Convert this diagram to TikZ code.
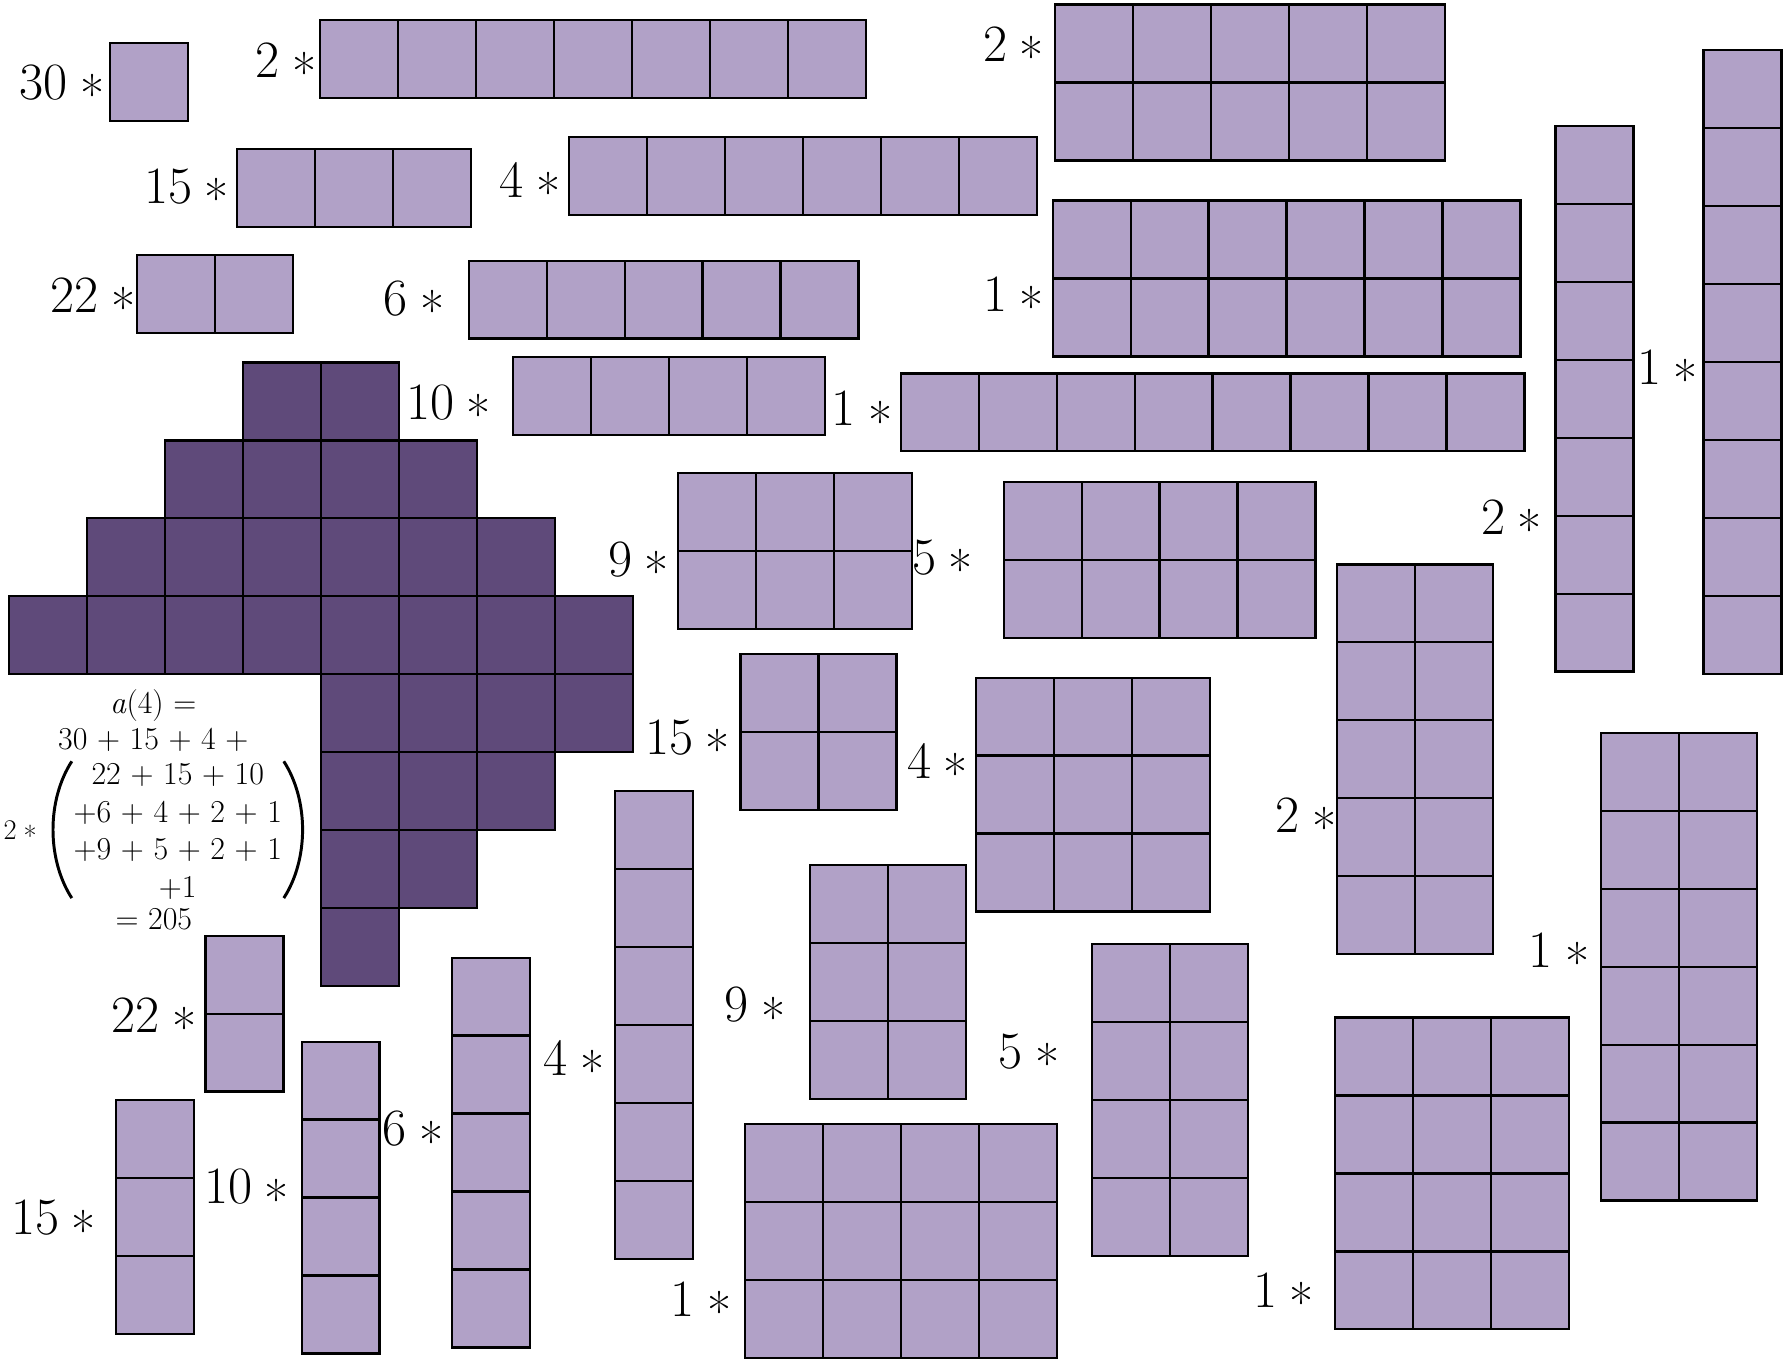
\documentclass[tikz,border=0pt]{standalone}
\definecolor{lightp}{HTML}{B1A1C7}
\definecolor{darkp}{HTML}{5F4A7A}
\newcommand\mystar{\raisebox{-0.27em}[0pt][0pt]{*}}
\tikzset{
  cellbox/.style={fill=lightp, draw=black, line width=2pt},
  darkcell/.style={fill=darkp, draw=black, line width=2pt},
  blockbox/.style={draw=black, line width=2pt, inner sep=0pt, outer sep=0pt, anchor=north west},
  cnt/.style={font=\fontsize{46}{50}\selectfont, inner sep=0pt, anchor=east},
  frm/.style={font=\fontsize{28}{33}\selectfont, inner sep=0pt, anchor=base},
  paren/.style={line width=2.6pt},
}
\newcommand\cs{68.4}
\newcommand\myblk[8]{%
  \foreach \i in {1,...,#4}{\foreach \j in {1,...,#5}{%
    \draw[cellbox] ({#2+(\i-1)*\cs},{#3+(\j-1)*\cs}) rectangle ++(\cs,\cs);}}
  \node[blockbox, minimum width={(#4*\cs)*1pt}, minimum height={(#5*\cs)*1pt}] (#1) at (#2,#3) {};
  \node[cnt] (#1-lab) at (#7,#8) {#6\hspace{0.24em}\mystar};
}
\begin{document}
\begin{tikzpicture}[x=1pt,y=-1pt]
\fill[white] (0,0) rectangle (1568,1195);
\useasboundingbox (0,0) rectangle (1568,1195);

% dark staircase shape
\foreach \r/\a/\b in {0/3/4,1/2/5,2/1/6,3/0/7,4/4/7,5/4/6,6/4/5,7/4/4}{
  \foreach \c in {\a,...,\b}{
    \draw[darkcell] ({8+\c*\cs},{318+\r*\cs}) rectangle ++(\cs,\cs);}}

% light blocks: name, x, y, cols, rows, count, label x, label y
\myblk{b30}{96.4}{38}{1}{1}{30}{92}{72.5}
\myblk{b2a}{281}{17.5}{7}{1}{2}{278}{52.5}
\myblk{b2b}{926}{4}{5}{2}{2}{916}{39}
\myblk{b15a}{208.2}{130.7}{3}{1}{15}{201}{164}
\myblk{b4a}{499.3}{120.5}{6}{1}{4}{492}{157.5}
\myblk{b22a}{120}{223.7}{2}{1}{22}{119}{259}
\myblk{b6a}{411.3}{228.7}{5}{1}{6}{390}{262}
\myblk{b1a}{923.7}{176}{6}{2}{1}{916}{258}
\myblk{b10a}{450}{313.5}{4}{1}{10}{431}{353.5}
\myblk{b1b}{790.4}{327.6}{8}{1}{1}{783}{358.5}
\myblk{b2c}{1364.8}{110.5}{1}{7}{2}{1353}{453.5}
\myblk{b1c}{1494.8}{44}{1}{8}{1}{1490}{322}
\myblk{b9a}{595}{415.3}{3}{2}{9}{587}{490.6}
\myblk{b5a}{880.7}{423.2}{4}{2}{5}{854}{489}
\myblk{b15b}{649.8}{574.1}{2}{2}{15}{640.6}{647.4}
\myblk{b4b}{856.4}{594.6}{3}{3}{4}{849.6}{667.8}
\myblk{b2d}{1173}{495.2}{2}{5}{2}{1172.8}{715}
\myblk{b1d}{1404.7}{643}{2}{6}{1}{1394.7}{834}
\myblk{b4c}{539.8}{694.3}{1}{6}{4}{530.6}{928}
\myblk{b9b}{711}{759}{2}{3}{9}{689.4}{881.8}
\myblk{b5b}{958.4}{828.5}{2}{4}{5}{929.5}{922.7}
\myblk{b22b}{180.3}{821}{1}{2}{22}{172.3}{890.7}
\myblk{b10b}{264.7}{914}{1}{4}{10}{253.6}{1041.5}
\myblk{b6b}{396.4}{840.3}{1}{5}{6}{389}{990.7}
\myblk{b15c}{101.6}{965}{1}{3}{15}{84.3}{1068.7}
\myblk{b1e}{653.7}{986.2}{4}{3}{1}{642}{1140}
\myblk{b1f}{1171.2}{892.8}{3}{4}{1}{1153}{1132}

% formula
\node[frm] (f1) at (134.5,626) {\textit{a}(4) =};
\node[frm] (f2) at (134.5,658) {30 + 15 + 4 +};
\node[frm] (r1) at (156,688.4) {22 + 15 + 10};
\node[frm] (r2) at (156,722) {+6 + 4 + 2 + 1};
\node[frm] (r3) at (156,754.2) {+9 + 5 + 2 + 1};
\node[frm] (r4) at (156,787.4) {+1};
\node[frm] (f3) at (135,816) {= 205};
\node[font=\fontsize{25}{28}\selectfont, inner sep=0pt, anchor=west] (f2x) at (3,728) {2\hspace{0.24em}\mystar};
\coordinate (lpt) at (63,668);
\coordinate (lpb) at (63,788);
\coordinate (rpt) at (249,668);
\coordinate (rpb) at (249,788);
\draw[paren] (lpt) .. controls (41,702) and (41,754) .. (lpb);
\draw[paren] (rpt) .. controls (271,702) and (271,754) .. (rpb);
\end{tikzpicture}
\end{document}
